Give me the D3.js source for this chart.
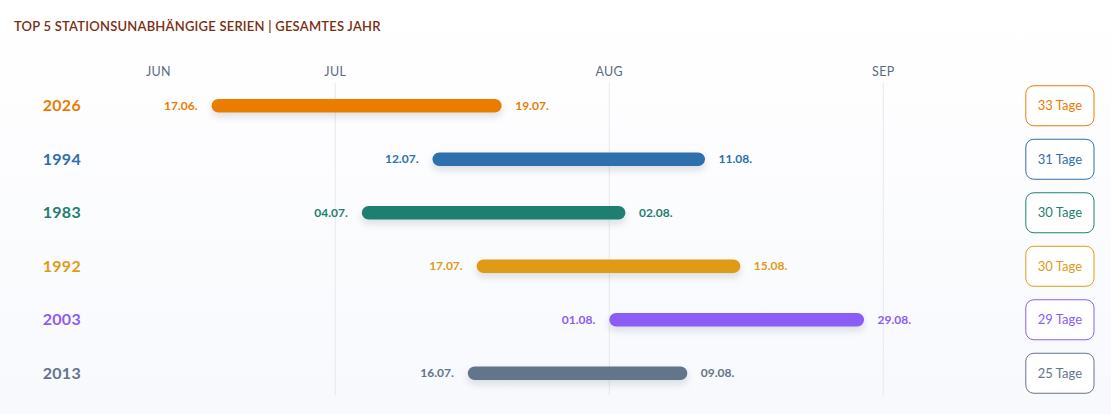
<!DOCTYPE html>
<html>
<head>
<meta charset="utf-8">
<script src="https://cdnjs.cloudflare.com/ajax/libs/d3/7.8.5/d3.min.js"></script>
<style>
  html, body { margin: 0; padding: 0; }
  body {
    width: 1111px; height: 414px; overflow: hidden;
    background: linear-gradient(to bottom, #ffffff 0%, #f8f9fd 100%);
    font-family: Lato, "Open Sans", sans-serif;
  }
  .title { font-size: 13px; font-weight: 600; fill: #7c2d12; letter-spacing: 0.22px; }
  .month { font-size: 12.5px; fill: #5b6b84; letter-spacing: 0.3px; }
  .year { font-size: 16px; font-weight: 700; letter-spacing: 0.3px; }
  .date { font-size: 12px; font-weight: 700; }
  .badge { font-size: 13px; }
</style>
</head>
<body>
<div id="chart"></div>
<script>
// ---------- data ----------
var years  = ["2026", "1994", "1983", "1992", "2003", "2013"];
var starts = ["17.06.", "12.07.", "04.07.", "17.07.", "01.08.", "16.07."];
var ends   = ["19.07.", "11.08.", "02.08.", "15.08.", "29.08.", "09.08."];
var days   = [33, 31, 30, 30, 29, 25];
var colors = ["#ea7b00", "#2e6fac", "#1f7f6f", "#df9b16", "#8b5cf6", "#64748b"];
var months = ["JUN", "JUL", "AUG", "SEP"];

var width = 1111, height = 414;
var refYear = 2001;

function parseDay(s) {
  var p = s.split(".");
  return new Date(Date.UTC(refYear, +p[1] - 1, +p[0]));
}
function nextDay(d) { return d3.utcDay.offset(d, 1); }

var rows = years.map(function(y, i) {
  return { year: y, start: starts[i], end: ends[i], days: days[i], color: colors[i],
           d0: parseDay(starts[i]), d1: nextDay(parseDay(ends[i])) };
});

// ---------- scales ----------
var x = d3.scaleUtc()
  .domain([new Date(Date.UTC(refYear, 5, 11)), new Date(Date.UTC(refYear, 8, 15))])
  .range([158.5, 1007]);

var y = d3.scaleBand().domain(years).range([79, 400]).padding(0);

var svg = d3.select("#chart").append("svg")
  .attr("width", width).attr("height", height);

var defs = svg.append("defs");
var f = defs.append("filter").attr("id", "shadow")
  .attr("x", "-10%").attr("y", "-100%").attr("width", "120%").attr("height", "300%");
f.append("feDropShadow").attr("dx", 0).attr("dy", 4).attr("stdDeviation", 3.5)
  .attr("flood-color", "#1e293b").attr("flood-opacity", 0.14);

// title
svg.append("text").attr("class", "title")
  .attr("x", 14).attr("y", 31)
  .text("TOP 5 STATIONSUNABHÄNGIGE SERIEN | GESAMTES JAHR");

// month grid + labels
var monthDates = months.map(function(m, i) { return new Date(Date.UTC(refYear, 5 + i, 1)); });
var xMin = x.domain()[0];

svg.append("g").selectAll("line")
  .data(monthDates.filter(function(d) { return d > xMin; }))
  .join("line")
  .attr("x1", function(d) { return x(d); }).attr("x2", function(d) { return x(d); })
  .attr("y1", 83).attr("y2", 395)
  .attr("stroke", "#e6e8ee").attr("stroke-width", 1);

svg.append("g").selectAll("text")
  .data(months)
  .join("text")
  .attr("class", "month")
  .attr("text-anchor", "middle")
  .attr("x", function(m, i) { return x(monthDates[i] < xMin ? xMin : monthDates[i]); })
  .attr("y", 76)
  .text(function(m) { return m; });

// rows
var barH = 13.5;
var row = svg.append("g").selectAll("g")
  .data(rows)
  .join("g")
  .attr("transform", function(d) { return "translate(0," + (y(d.year) + y.bandwidth() / 2) + ")"; });

row.append("text").attr("class", "year")
  .attr("x", 81).attr("dy", "0.35em")
  .attr("text-anchor", "end")
  .attr("fill", function(d) { return d.color; })
  .text(function(d) { return d.year; });

row.append("rect")
  .attr("x", function(d) { return x(d.d0); })
  .attr("width", function(d) { return x(d.d1) - x(d.d0) - 1.5; })
  .attr("y", -barH / 2).attr("height", barH)
  .attr("rx", barH / 2)
  .attr("fill", function(d) { return d.color; })
  .attr("filter", "url(#shadow)");

row.append("text").attr("class", "date")
  .attr("x", function(d) { return x(d.d0) - 14; })
  .attr("dy", "0.35em").attr("text-anchor", "end")
  .attr("fill", function(d) { return d.color; })
  .text(function(d) { return d.start; });

row.append("text").attr("class", "date")
  .attr("x", function(d) { return x(d.d1) + 12; })
  .attr("dy", "0.35em")
  .attr("fill", function(d) { return d.color; })
  .text(function(d) { return d.end; });

// badges
var badge = row.append("g");
var badgeRight = 1094, padX = 12, bh = 40;
badge.each(function(d) {
  var g = d3.select(this);
  var r = g.append("rect");
  var t = g.append("text").attr("class", "badge")
    .attr("text-anchor", "middle").attr("dy", "0.35em")
    .attr("fill", d.color)
    .text(d.days + " Tage");
  var w = t.node().getComputedTextLength() + padX * 2;
  r.attr("x", badgeRight - w).attr("y", -bh / 2)
    .attr("width", w).attr("height", bh).attr("rx", 8)
    .attr("fill", "#ffffff").attr("stroke", d.color).attr("stroke-width", 1);
  t.attr("x", badgeRight - w / 2);
});
</script>
</body>
</html>
